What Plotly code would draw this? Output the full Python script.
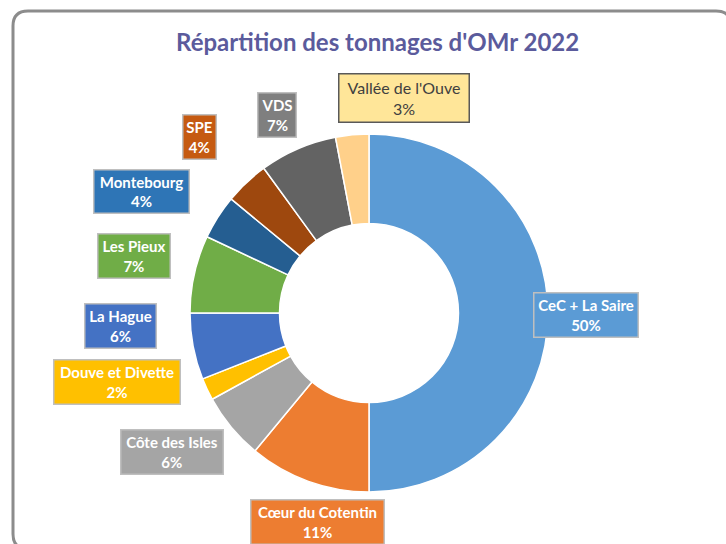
import plotly.graph_objects as go

W, H = 726, 544

categories = ["CeC + La Saire", "Cœur du Cotentin", "Côte des Isles", "Douve et Divette",
              "La Hague", "Les Pieux", "Montebourg", "SPE", "VDS", "Vallée de l'Ouve"]
values = [50, 11, 6, 2, 6, 7, 4, 4, 7, 3]
pct_labels = ["50%", "11%", "6%", "2%", "6%", "7%", "4%", "4%", "7%", "3%"]

slice_colors = ["#5B9BD5", "#ED7D31", "#A5A5A5", "#FFC000", "#4472C4", "#70AD47",
                "#255E91", "#9E480E", "#636363", "#FFD08A"]
label_bg = ["#5B9BD5", "#ED7D31", "#A5A5A5", "#FFC000", "#4472C4", "#70AD47",
            "#2E75B6", "#C55A11", "#7F7F7F", "#FFE699"]
label_text_color = ["white"] * 9 + ["#404040"]
label_border = ["#BFBFBF"] * 9 + ["#595959"]
# label box centres and sizes in pixels (layout)
label_boxes = [
    (586, 315, 106, 46),
    (317, 522, 135, 46),
    (172, 452, 104, 46),
    (117, 382, 128, 46),
    (120, 326, 73, 46),
    (134, 256, 74, 46),
    (141, 191, 97, 45),
    (199, 137, 35, 46),
    (277, 115, 40, 46),
    (404, 98, 132, 50),
]

cx, cy, r = 369, 313, 179

fig = go.Figure()
fig.add_trace(go.Pie(
    labels=categories, values=values, sort=False, direction="clockwise", rotation=0,
    hole=0.5, textinfo="none", hoverinfo="label+percent",
    marker=dict(colors=slice_colors, line=dict(color="white", width=1.5)),
    domain=dict(x=[(cx - r) / W, (cx + r) / W], y=[1 - (cy + r) / H, 1 - (cy - r) / H]),
    showlegend=False,
))

def px(x):
    return x / W

def py(y):
    return 1 - y / H

annotations = []
for i, cat in enumerate(categories):
    bx, by, bw, bh = label_boxes[i]
    bold = i != 9
    txt = f"{cat}<br>{pct_labels[i]}"
    size = 16
    if bold:
        txt = f"<b>{cat}</b><br><b>{pct_labels[i]}</b>"
        size = 15
    pad = 1
    bwid = 1.5
    annotations.append(dict(
        x=px(bx), y=py(by), xref="paper", yref="paper", xanchor="center", yanchor="middle",
        text=txt, showarrow=False, align="center",
        font=dict(family="Lato", size=size, color=label_text_color[i]),
        bgcolor=label_bg[i], bordercolor=label_border[i], borderwidth=bwid, borderpad=pad,
        width=bw - 2 * pad - 2 * bwid, height=bh - 2 * pad - 2 * bwid,
    ))

annotations.append(dict(
    x=px(377), y=py(42), xref="paper", yref="paper", xanchor="center", yanchor="middle",
    text="<b>Répartition des tonnages d'OMr 2022</b>", showarrow=False,
    font=dict(family="Lato", size=24, color="#5B5B9C"),
))

# rounded frame
x0, y0, x1, y1, rr = 13, 11, 731, 549, 15
path = (f"M {px(x0 + rr)},{py(y0)} L {px(x1 - rr)},{py(y0)} Q {px(x1)},{py(y0)} {px(x1)},{py(y0 + rr)} "
        f"L {px(x1)},{py(y1 - rr)} Q {px(x1)},{py(y1)} {px(x1 - rr)},{py(y1)} "
        f"L {px(x0 + rr)},{py(y1)} Q {px(x0)},{py(y1)} {px(x0)},{py(y1 - rr)} "
        f"L {px(x0)},{py(y0 + rr)} Q {px(x0)},{py(y0)} {px(x0 + rr)},{py(y0)} Z")

fig.update_layout(
    width=W, height=H, margin=dict(l=0, r=0, t=0, b=0),
    paper_bgcolor="white", plot_bgcolor="white",
    annotations=annotations,
    shapes=[dict(type="path", path=path, xref="paper", yref="paper",
                 line=dict(color="#8C8C8C", width=3), layer="below")],
)

fig.write_html("out.html", config={"displayModeBar": False},
               post_script="document.body.style.margin='0';document.body.style.overflow='hidden';")
